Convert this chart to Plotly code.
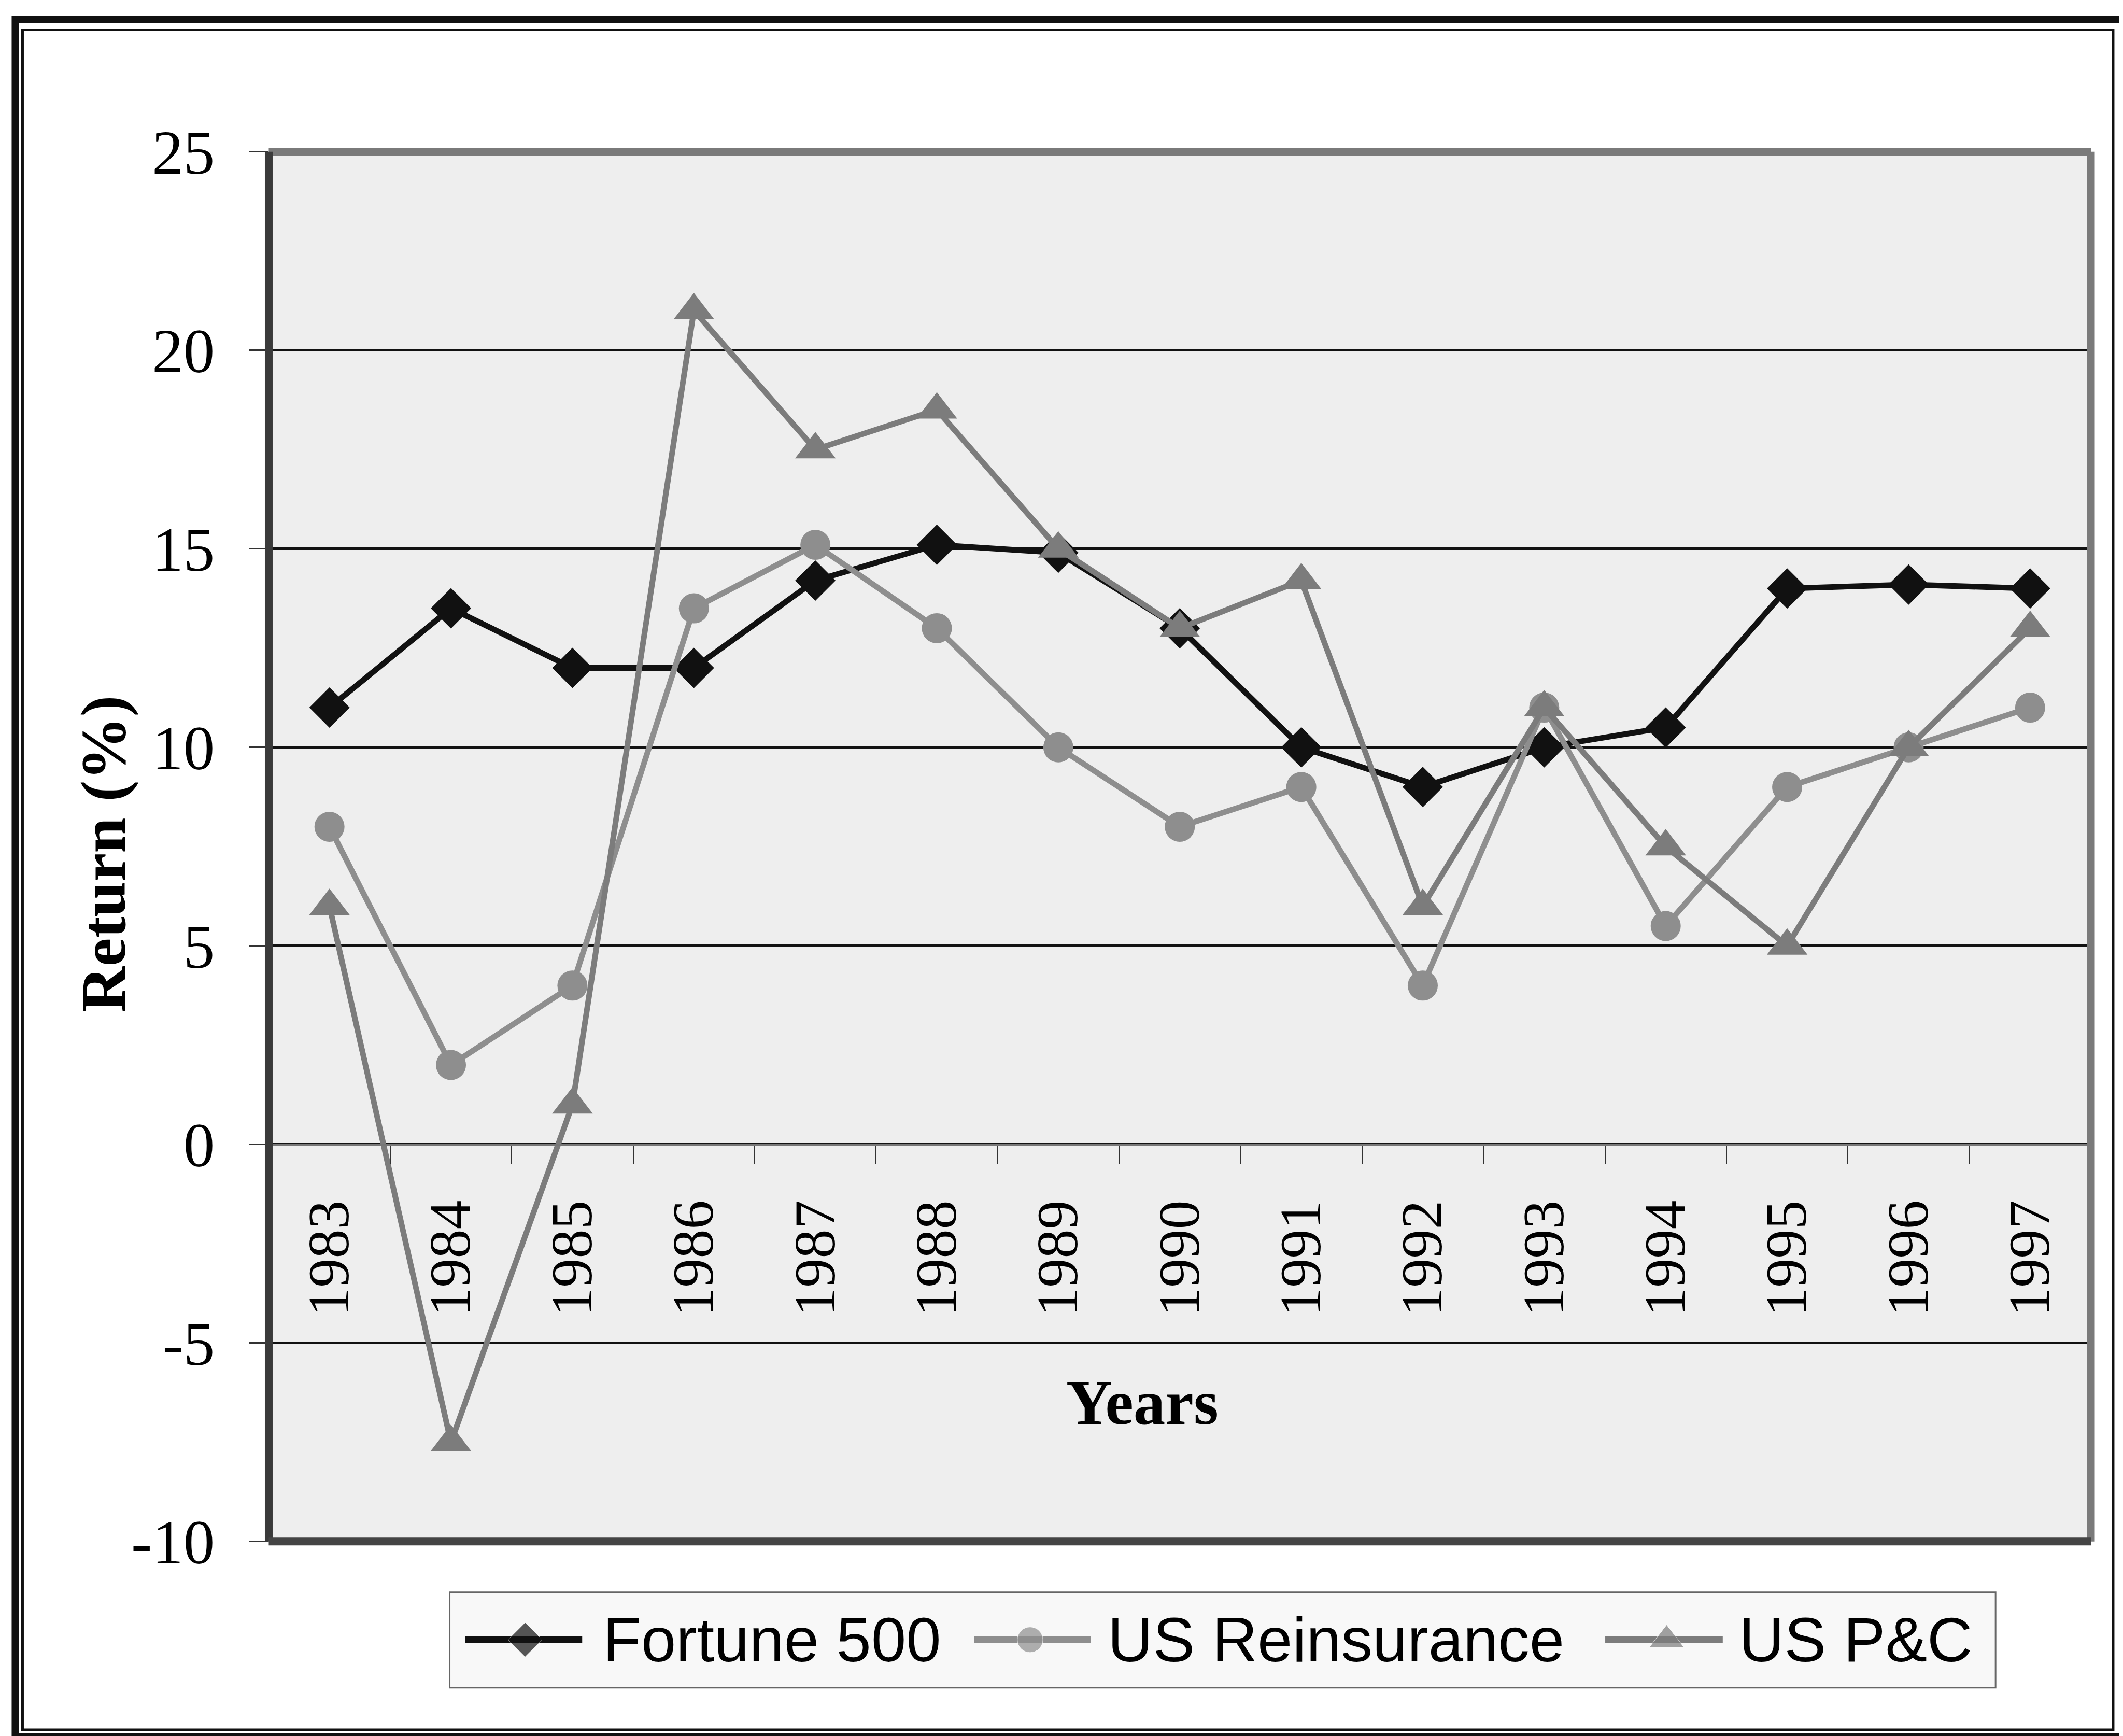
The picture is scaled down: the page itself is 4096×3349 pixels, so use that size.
import plotly.graph_objects as go

# ---------------- data ----------------
years = ["1983", "1984", "1985", "1986", "1987", "1988", "1989", "1990",
         "1991", "1992", "1993", "1994", "1995", "1996", "1997"]
fortune_500 = [11, 13.5, 12, 12, 14.2, 15.1, 14.9, 13, 10, 9, 10, 10.5, 14, 14.1, 14]
us_reinsurance = [8, 2, 4, 13.5, 15.1, 13, 10, 8, 9, 4, 11, 5.5, 9, 10, 11]
us_pc = [6, -7.5, 1, 21, 17.5, 18.5, 15, 13, 14.2, 6, 11, 7.5, 5, 10, 13]
series_names = ["Fortune 500", "US Reinsurance", "US P&C"]
y_tick_values = [-10, -5, 0, 5, 10, 15, 20, 25]
y_tick_labels = ["-10", "-5", "0", "5", "10", "15", "20", "25"]
y_range = [-10, 25]

# ---------------- geometry helpers (reference px -> paper) ----------------
W, H = 4096, 3349
S = 4096 / 4389


def px(x):
    return x * S / W


def py(y):
    return 1 - y * S / H


PL, PR, PT, PB = 547, 4314, 305, 3178
y_bot, y_top = py(PB), py(PT)
zero_pos = y_bot + (0 - y_range[0]) / (y_range[1] - y_range[0]) * (y_top - y_bot)

# legend box (reference px)
LL, LR, LT, LB = 921, 4117, 3283, 3480

SERIF = "Liberation Serif, Times New Roman, serif"
SANS = "Liberation Sans, Arial, sans-serif"

C_F = "#111111"
C_R = "#8e8e8e"
C_P = "#7c7c7c"

MK = {"diamond": 60, "circle": 58, "triangle-up": 68}

fig = go.Figure()

fig.add_trace(go.Scatter(x=years, y=fortune_500, name=series_names[0], mode="lines+markers",
                         line=dict(color=C_F, width=11),
                         marker=dict(symbol="diamond", size=MK["diamond"], color=C_F),
                         showlegend=False))
fig.add_trace(go.Scatter(x=years, y=us_reinsurance, name=series_names[1], mode="lines+markers",
                         line=dict(color=C_R, width=11),
                         marker=dict(symbol="circle", size=MK["circle"], color=C_R),
                         showlegend=False))
fig.add_trace(go.Scatter(x=years, y=us_pc, name=series_names[2], mode="lines+markers",
                         line=dict(color=C_P, width=11),
                         marker=dict(symbol="triangle-up", size=MK["triangle-up"], color=C_P),
                         showlegend=False))

# ---------------- custom legend samples (helper axes over the legend box) ----------------
leg_yc = 3381
leg_items = [
    (953, 1077, 1195, 1235, C_F, "diamond"),
    (2005, 2121, 2247, 2279, C_R, "circle"),
    (3310, 3437, 3553, 3584, C_P, "triangle-up"),
]
for (x0, xm, x1, xt, col, sym), nm in zip(leg_items, series_names):
    fig.add_trace(go.Scatter(x=[x0, xm, x1], y=[leg_yc] * 3,
                             xaxis="x2", yaxis="y2", mode="lines+markers",
                             line=dict(color=col, width=13),
                             marker=dict(symbol=sym, size=[0, MK[sym] * 0.85, 0], color=col),
                             showlegend=False, hoverinfo="skip", cliponaxis=False))

annotations = []
for (x0, xm, x1, xt, col, sym), nm in zip(leg_items, series_names):
    annotations.append(dict(x=px(xt), y=py(leg_yc), xref="paper", yref="paper", text=nm,
                            showarrow=False, xanchor="left", yanchor="middle",
                            font=dict(family=SANS, size=121, color="#000")))

annotations.append(dict(x=px(2353), y=py(2890), xref="paper", yref="paper", text="<b>Years</b>",
                        showarrow=False, xanchor="center", yanchor="middle",
                        font=dict(family=SERIF, size=123, color="#000")))
annotations.append(dict(x=px(205), y=py(1757), xref="paper", yref="paper", text="<b>Return (%)</b>",
                        showarrow=False, xanchor="center", yanchor="middle", textangle=-90,
                        font=dict(family=SERIF, size=123, color="#000")))

shapes = [
    # plot-area background (below grid)
    dict(type="rect", xref="paper", yref="paper", x0=px(PL), x1=px(PR), y0=y_bot, y1=y_top,
         line=dict(width=0), fillcolor="#eeeeee", layer="below"),
    # legend background
    dict(type="rect", xref="paper", yref="paper", x0=px(LL), x1=px(LR), y0=py(LB), y1=py(LT),
         line=dict(width=0), fillcolor="#f8f8f8", layer="below"),
    # outer double frame
    dict(type="rect", xref="paper", yref="paper", x0=px(23), x1=px(4381), y0=py(3581), y1=py(31),
         line=dict(color="#111", width=14), layer="above"),
    dict(type="rect", xref="paper", yref="paper", x0=px(38), x1=px(4360), y0=py(3567), y1=py(53),
         line=dict(color="#111", width=5), layer="above"),
    # legend box outline
    dict(type="rect", xref="paper", yref="paper", x0=px(LL), x1=px(LR), y0=py(LB), y1=py(LT),
         line=dict(color="#666", width=3), layer="above"),
    # plot-area border (top/right lighter, left/bottom darker)
    dict(type="line", xref="paper", yref="paper", x0=px(PL), x1=px(PR), y0=y_top, y1=y_top,
         line=dict(color="#7a7a7a", width=15), layer="above"),
    dict(type="line", xref="paper", yref="paper", x0=px(PR), x1=px(PR), y0=y_bot, y1=y_top,
         line=dict(color="#7a7a7a", width=15), layer="above"),
    dict(type="line", xref="paper", yref="paper", x0=px(PL), x1=px(PL), y0=y_bot, y1=y_top,
         line=dict(color="#3a3a3a", width=15), layer="above"),
    dict(type="line", xref="paper", yref="paper", x0=px(PL), x1=px(PR), y0=y_bot, y1=y_bot,
         line=dict(color="#444444", width=15), layer="above"),
]

fig.update_layout(
    width=W, height=H,
    margin=dict(l=0, r=0, t=0, b=0, autoexpand=False),
    paper_bgcolor="white",
    plot_bgcolor="rgba(0,0,0,0)",
    showlegend=False,
    xaxis=dict(type="category", categoryorder="array", categoryarray=years,
               domain=[px(PL), px(PR)], range=[-0.5, 14.5],
               anchor="free", position=zero_pos,
               showline=True, linecolor="#777", linewidth=5,
               ticks="outside", tickson="boundaries", ticklen=35, tickwidth=2, tickcolor="#333",
               tickangle=-90, ticklabelstandoff=60,
               tickfont=dict(family=SERIF, size=112, color="#000"),
               showgrid=False, zeroline=False, fixedrange=True),
    yaxis=dict(domain=[y_bot, y_top], range=y_range,
               tickmode="array", tickvals=y_tick_values, ticktext=y_tick_labels,
               showgrid=True, gridcolor="#111", gridwidth=5, zeroline=False,
               ticks="outside", ticklen=37, tickwidth=3, tickcolor="#333",
               ticklabelstandoff=42,
               tickfont=dict(family=SERIF, size=121, color="#000"),
               showline=False, fixedrange=True),
    xaxis2=dict(domain=[px(LL), px(LR)], range=[LL, LR], visible=False, anchor="y2", fixedrange=True),
    yaxis2=dict(domain=[py(LB), py(LT)], range=[LB, LT], visible=False, anchor="x2", fixedrange=True),
    annotations=annotations,
    shapes=shapes,
)

fig.write_html("out.html")
